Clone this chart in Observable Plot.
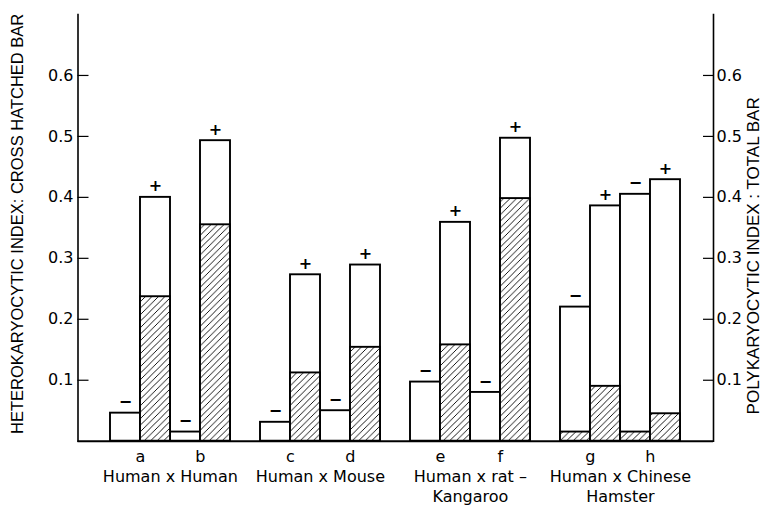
<!DOCTYPE html>
<html><head><meta charset="utf-8">
<script src="https://cdn.jsdelivr.net/npm/d3@7"></script>
<script src="https://cdn.jsdelivr.net/npm/@observablehq/plot@0.6"></script>
<style>body{margin:0;background:#fff}</style>
</head><body><div id="chart"></div>
<script>
// ---- data ----
const groups = ["Human x Human", "Human x Mouse", "Human x rat –\nKangaroo", "Human x Chinese\nHamster"];
const letters = ["a", "b", "c", "d", "e", "f", "g", "h"];
// "−" bars (left of each pair)
const minusTotal   = [0.046, 0.015, 0.031, 0.050, 0.097, 0.080, 0.220, 0.405];
const minusHatched = [0, 0, 0, 0, 0, 0, 0.015, 0.015];
// "+" bars (right of each pair)
const plusTotal    = [0.400, 0.493, 0.273, 0.289, 0.359, 0.497, 0.386, 0.429];
const plusHatched  = [0.237, 0.355, 0.112, 0.154, 0.158, 0.398, 0.090, 0.045];
const yTicks = [0.1, 0.2, 0.3, 0.4, 0.5, 0.6];
const leftTitle = "HETEROKARYOCYTIC INDEX: CROSS HATCHED BAR";
const rightTitle = "POLYKARYOCYTIC INDEX : TOTAL BAR";

// ---- derived tables ----
const slots = [];
groups.forEach((g, gi) => {
  slots.push(`gap${gi}`);
  letters.slice(2 * gi, 2 * gi + 2).forEach(l => slots.push(l + "−", l + "+"));
});
slots.push(`gap${groups.length}`);

const bars = letters.flatMap((l, i) => [
  {slot: l + "−", total: minusTotal[i], hatched: minusHatched[i], sign: "−"},
  {slot: l + "+", total: plusTotal[i], hatched: plusHatched[i], sign: "+"}
]);
const letterRows = letters.map(l => ({slot: l + "+", label: l}));
const groupRows = groups.map((g, gi) => ({slot: letters[2 * gi + 1] + "−", label: g}));

const W = 764, H = 506, mL = 77.5, mR = 51, mT = 14, mB = 65.3;
const half = (W - mL - mR) / slots.length / 2;

const svg = Plot.plot({
  width: W, height: H,
  marginLeft: mL, marginRight: mR, marginTop: mT, marginBottom: mB,
  style: {fontFamily: "DejaVu Sans", fontSize: "16px", background: "white", color: "black"},
  x: {domain: slots, padding: 0, axis: null},
  y: {domain: [0, 0.7], axis: null},
  marks: [
    Plot.barY(bars, {x: "slot", y: "total", fill: "white", stroke: "black", strokeWidth: 1.9, inset: 0}),
    Plot.barY(bars.filter(d => d.hatched > 0), {x: "slot", y: "hatched", fill: "url(#hatch)", stroke: "black", strokeWidth: 1.9, inset: 0}),
    Plot.text(bars, {x: "slot", y: "total", text: "sign", dy: -11, fontSize: 16, fontWeight: "bold"}),
    Plot.ruleY([0], {strokeWidth: 1.9}),
    Plot.frame({anchor: "left", strokeWidth: 1.6}),
    Plot.frame({anchor: "right", strokeWidth: 1.6}),
    Plot.axisY({anchor: "left", ticks: yTicks, tickFormat: d3.format(".1f"), tickSize: -11, tickPadding: 15.5, fontSize: 16, strokeWidth: 1.2}),
    Plot.axisY({anchor: "right", ticks: yTicks, tickFormat: d3.format(".1f"), tickSize: -11, tickPadding: 14, fontSize: 16, strokeWidth: 1.2}),
    Plot.text(letterRows, {x: "slot", y: d => 0, text: "label", dx: -half, dy: 16, fontSize: 16}),
    Plot.text(groupRows, {x: "slot", y: d => 0, text: "label", dx: -half, dy: 26, lineAnchor: "top", lineHeight: 1.28, fontSize: 16}),
    Plot.text([leftTitle], {text: d => d, frameAnchor: "left", textAnchor: "middle", rotate: -90, dx: -60, dy: -4, fontSize: 16.5, fontFamily: "Liberation Sans"}),
    Plot.text([rightTitle], {text: d => d, frameAnchor: "right", textAnchor: "middle", rotate: -90, dx: 40, dy: 28, fontSize: 17, fontFamily: "Liberation Sans"})
  ]
});

// hatch pattern for the cross-hatched bars
const defs = d3.select(svg).insert("defs", ":first-child");
const pat = defs.append("pattern").attr("id", "hatch").attr("patternUnits", "userSpaceOnUse")
  .attr("width", 6.5).attr("height", 6.5);
pat.append("rect").attr("width", 6.5).attr("height", 6.5).attr("fill", "white");
pat.append("path").attr("d", "M-1,1 l2,-2 M0,6.5 l6.5,-6.5 M5.5,7.5 l2,-2")
  .attr("stroke", "black").attr("stroke-width", 0.9);

document.getElementById("chart").appendChild(svg);
</script>
</body></html>
